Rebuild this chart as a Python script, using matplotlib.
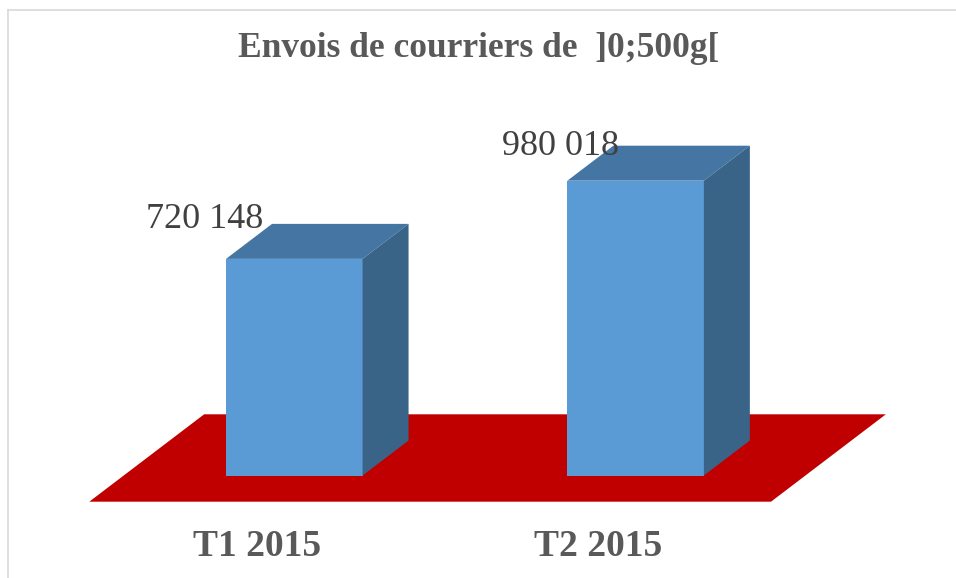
import matplotlib
matplotlib.use('Agg')
import matplotlib.pyplot as plt
from matplotlib.patches import Polygon
from matplotlib.lines import Line2D

categories = ['T1 2015', 'T2 2015']
values = [720148, 980018]
title = 'Envois de courriers de  ]0;500g['

W, H = 956, 578
X0_PX, X_STEP_PX = 294.3, 341.3      # centre of first bar front, spacing
Y0_PX, PX_PER_UNIT = 475.5, 294.8 / 980018
BAR_W = 0.4                          # in category units
DEPTH_PX = (46, 35)                  # oblique depth of the boxes

FRONT = '#5B9BD5'
TOP = '#4576A3'
SIDE = '#3A6487'
FLOOR = '#C00000'
GREY = '#595959'


def fmt(v):
    return f'{v:,}'.replace(',', ' ')


fig = plt.figure(figsize=(W / 100, H / 100), dpi=100)
ax = fig.add_axes([0, 0, 1, 1])
ax.set_xlim(-X0_PX / X_STEP_PX, (W - X0_PX) / X_STEP_PX)
ax.set_ylim((Y0_PX - H) / PX_PER_UNIT, Y0_PX / PX_PER_UNIT)
ax.axis('off')

ddx = DEPTH_PX[0] / X_STEP_PX
ddy = DEPTH_PX[1] / PX_PER_UNIT

# red floor, slightly wider and deeper than the boxes
fl, fr = -0.6007, 1.3967
f_front, f_back = (Y0_PX - 501.7) / PX_PER_UNIT, (Y0_PX - 414.3) / PX_PER_UNIT
fdx = (f_back - f_front) / ddy * ddx
ax.add_patch(Polygon([(fl, f_front), (fr, f_front), (fr + fdx, f_back), (fl + fdx, f_back)],
                     closed=True, facecolor=FLOOR, edgecolor='none'))

for i, v in enumerate(values):
    x0, x1 = i - BAR_W / 2, i + BAR_W / 2
    ax.add_patch(Polygon([(x0, 0), (x1, 0), (x1, v), (x0, v)],
                         facecolor=FRONT, edgecolor='none'))
    ax.add_patch(Polygon([(x0, v), (x1, v), (x1 + ddx, v + ddy), (x0 + ddx, v + ddy)],
                         facecolor=TOP, edgecolor='none'))
    ax.add_patch(Polygon([(x1, 0), (x1 + ddx, ddy), (x1 + ddx, v + ddy), (x1, v)],
                         facecolor=SIDE, edgecolor='none'))

# data labels (nudged like the original)
label_nudge = [(-90, 31), (-75, 26)]
for i, v in enumerate(values):
    ax.annotate(fmt(v), xy=(i, v), xytext=label_nudge[i], textcoords='offset pixels',
                ha='center', va='baseline', fontsize=26, family='Liberation Serif',
                color='#404040')

for i, c in enumerate(categories):
    ax.annotate(c, xy=(i, 0), xytext=(-37, -81), textcoords='offset pixels',
                ha='center', va='baseline', fontsize=27, fontweight='bold',
                family='Liberation Serif', color=GREY)

fig.text(479 / W, 1 - 57 / H, title, ha='center', va='baseline', fontsize=25.5,
         fontweight='bold', family='Liberation Serif', color=GREY)

# chart border (only top and left visible)
fig.add_artist(Line2D([7.5 / W, 7.5 / W], [0, 1 - 10 / H], color='#D9D9D9', lw=1.2))
fig.add_artist(Line2D([7.5 / W, 1], [1 - 10 / H, 1 - 10 / H], color='#D9D9D9', lw=1.2))

fig.savefig('out.png', dpi=100)
